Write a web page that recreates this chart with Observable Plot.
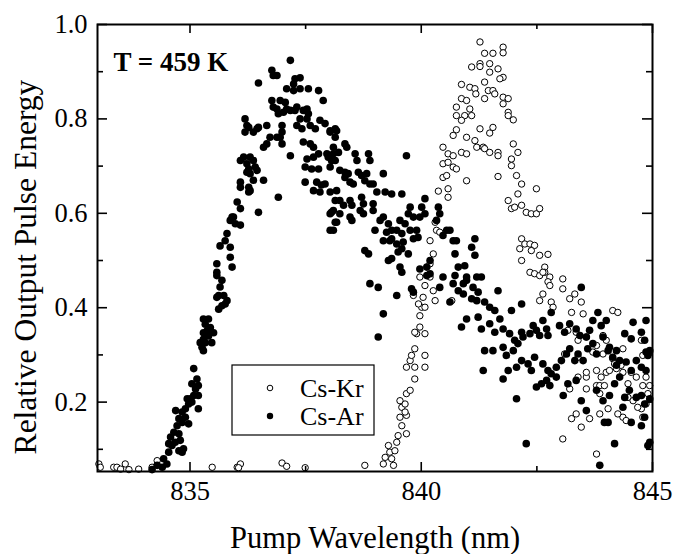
<!DOCTYPE html>
<html>
<head>
<meta charset="utf-8">
<script src="https://cdn.jsdelivr.net/npm/d3@7"></script>
<script src="https://cdn.jsdelivr.net/npm/@observablehq/plot@0.6"></script>
<style>
  html, body { margin: 0; padding: 0; background: white; }
</style>
</head>
<body>
<div id="chart"></div>
<script>
// ---- Data ----
const xTitle = "Pump Wavelength (nm)";
const yTitle = "Relative Output Pulse Energy";
const annotation = "T = 459 K";
const seriesNames = ["Cs-Kr", "Cs-Ar"];
const xMajorTicks = [835, 840, 845];
const xMinorTicks = [837.5, 842.5];
const yMajorTicks = [0.2, 0.4, 0.6, 0.8, 1.0];
const yMinorTicks = [0.1, 0.3, 0.5, 0.7, 0.9];
const xDomain = [833, 845];
const yDomain = [0.053, 1.0];

// Cs-Ar (filled circles): [wavelength nm, relative energy]
const csAr = [
[837.17,.924],[836.77,.903],[836.80,.892],[836.88,.892],[836.48,.876],[837.09,.864],[837.27,.885],[837.38,.887],
[837.24,.874],[837.38,.864],[837.24,.860],[837.56,.864],[837.78,.860],[837.88,.839],[836.19,.800],[836.23,.786],
[836.19,.772],[836.27,.782],[836.37,.772],[836.45,.779],[836.48,.782],[836.77,.839],[836.80,.825],[836.88,.821],
[836.95,.839],[837.06,.835],[837.09,.821],[836.91,.811],[837.02,.814],[837.17,.818],[837.27,.818],[837.31,.825],
[837.45,.818],[837.53,.821],[837.56,.811],[836.66,.786],[836.73,.761],[836.88,.761],[836.99,.786],[836.99,.772],
[836.95,.761],[836.99,.747],[837.17,.722],[836.91,.634],[836.66,.747],[836.59,.740],[837.38,.800],[837.31,.786],
[837.42,.779],[837.53,.800],[837.60,.786],[837.71,.779],[837.81,.797],[837.92,.790],[838.03,.775],[838.14,.779],
[837.45,.751],[837.60,.747],[837.67,.740],[837.53,.715],[837.67,.719],[837.78,.726],[837.96,.726],[837.99,.719],
[838.06,.712],[838.10,.740],[837.49,.698],[837.63,.694],[837.78,.694],[837.49,.666],[837.67,.648],[837.81,.645],
[837.92,.662],[837.84,.660],[837.74,.666],[838.06,.602],[838.14,.581],[838.10,.564],[836.16,.719],[836.09,.712],
[836.23,.705],[836.30,.719],[836.37,.712],[836.27,.694],[836.23,.687],[836.30,.684],[836.41,.698],[836.45,.691],
[836.37,.670],[836.59,.670],[836.27,.655],[836.30,.648],[836.09,.666],[836.09,.655],[836.27,.645],[836.48,.602],
[836.02,.624],[836.09,.610],[835.94,.592],[835.98,.578],[836.09,.575],[835.87,.585],[835.91,.592],[835.80,.557],
[835.76,.542],[835.87,.528],[835.65,.531],[835.87,.507],[835.91,.486],[835.58,.493],[835.58,.475],
[835.58,.468],[835.69,.458],[835.65,.444],[835.62,.426],[835.58,.422],[835.73,.426],[835.80,.415],[835.76,.408],
[835.69,.404],[835.62,.397],[835.29,.376],[835.40,.376],[835.33,.365],[835.44,.358],[835.37,.351],[835.29,.347],
[835.51,.347],[835.40,.340],[835.29,.333],[835.22,.326],[835.33,.326],[835.47,.326],[835.29,.309],[835.26,.316],
[835.08,.271],[835.15,.249],[835.04,.239],[835.18,.235],[835.12,.228],[835.08,.214],[835.18,.214],[835.01,.207],
[834.94,.207],[835.04,.200],[834.97,.196],[835.18,.186],[834.90,.186],[834.90,.168],[834.83,.157],[834.97,.154],
[834.72,.150],[834.69,.182],[834.83,.179],[834.76,.133],[834.65,.136],[834.76,.165],[834.58,.126],[834.54,.112],
[834.61,.108],[834.68,.115],[834.79,.119],[834.86,.101],[834.83,.094],[834.76,.097],[834.54,.094],[834.43,.080],
[834.50,.069],[834.40,.062],[834.29,.066],[834.18,.057],
[838.03,.772],[838.14,.761],[838.17,.775],[838.10,.726],[838.14,.712],[838.03,.698],[838.21,.729],[838.35,.747],
[838.39,.740],[838.24,.691],[838.35,.687],[838.42,.684],[838.35,.676],[838.17,.648],[838.46,.666],[838.53,.662],
[838.64,.687],[838.71,.680],[838.57,.726],[838.61,.712],[838.86,.726],[838.89,.712],[838.82,.684],[838.78,.669],
[838.89,.662],[838.96,.662],[839.04,.645],[839.22,.645],[839.36,.641],[839.58,.641],[839.68,.722],[839.18,.684],
[838.03,.645],[838.14,.627],[838.10,.606],[838.03,.599],[838.17,.581],[838.03,.564],[838.24,.627],[838.32,.617],
[838.24,.599],[838.46,.627],[838.50,.617],[838.46,.592],[838.50,.585],[838.71,.634],[838.75,.620],[838.68,.606],
[838.75,.599],[838.96,.620],[838.96,.606],[839.00,.564],[839.11,.585],[839.18,.592],[839.29,.578],[839.36,.564],
[839.25,.560],[839.32,.542],[839.47,.564],[839.54,.585],[839.58,.557],[839.65,.578],[839.72,.599],[839.76,.613],
[839.83,.592],[839.76,.564],[839.90,.564],[839.97,.592],[840.01,.613],[840.08,.631],[840.08,.599],[839.93,.549],
[839.83,.546],[839.61,.539],[839.47,.535],[839.36,.546],[839.18,.542],[838.78,.521],[838.86,.514],[839.29,.500],
[839.36,.504],[839.58,.525],[839.50,.518],[839.54,.486],[839.72,.514],[839.97,.482],[840.12,.486],[840.19,.500],
[840.33,.585],[840.40,.599],[840.37,.613],[840.47,.553],[840.55,.564],[840.62,.564],[840.69,.542],[840.76,.542],
[840.73,.514],[840.80,.486],[840.94,.489],[841.09,.528],[841.16,.511],[841.16,.546],[841.20,.465],[840.98,.465],
[838.89,.451],[839.07,.443],[839.47,.426],[839.18,.387],[839.07,.338],[839.58,.475],[839.79,.440],[839.83,.433],
[840.12,.468],[840.19,.472],[840.47,.465],[840.40,.443],[840.69,.451],[840.73,.468],[840.62,.412],[840.80,.436],
[840.91,.451],[840.91,.429],[840.98,.458],[841.09,.419],[841.20,.415],[841.23,.433],[841.30,.465],[841.12,.443],
[841.37,.412],[841.48,.401],[841.59,.394],[841.66,.436],[841.70,.376],[841.77,.355],[841.91,.345],[841.95,.394],
[842.02,.331],[842.17,.408],[840.98,.376],[840.87,.359],[841.23,.380],[841.30,.355],[841.48,.366],[841.59,.348],
[841.37,.309],[841.55,.309],[841.77,.316],[841.84,.299],[841.99,.309],[842.09,.324],[842.20,.338],[842.17,.348],
[842.35,.345],[842.42,.362],[842.49,.352],[842.56,.341],[842.63,.373],[842.71,.355],[842.74,.341],[842.81,.390],
[842.99,.362],[843.10,.348],[843.21,.366],[843.35,.355],[843.46,.443],[843.43,.341],[843.57,.338],[843.64,.352],
[843.71,.373],[843.82,.390],[843.89,.362],[844.00,.373],[843.93,.338],[844.07,.316],[844.22,.309],[844.40,.345],
[844.58,.369],[844.54,.334],[844.76,.348],[844.86,.373],[844.83,.331],[844.86,.306],[841.34,.267],[841.77,.249],
[841.88,.267],[842.06,.274],[842.17,.288],[842.31,.281],[842.38,.267],[842.45,.295],[842.63,.281],[842.74,.267],
[842.81,.260],[842.92,.274],[843.03,.288],[843.14,.302],[843.21,.313],[843.32,.288],[843.39,.302],[843.50,.288],
[843.60,.313],[843.71,.324],[843.79,.302],[844.04,.309],[844.14,.295],[844.22,.278],[844.29,.288],[844.43,.285],
[844.54,.267],[844.65,.288],[844.76,.274],[844.86,.267],[844.90,.299],[844.94,.309],[842.06,.207],[842.49,.232],
[842.60,.239],[842.71,.246],[842.78,.235],[842.92,.253],[843.07,.214],[843.17,.239],[843.35,.246],[843.46,.203],
[843.57,.182],[843.79,.225],[843.93,.203],[844.07,.214],[844.18,.239],[844.29,.253],[844.40,.210],[844.36,.189],
[844.50,.225],[844.65,.210],[844.76,.214],[844.83,.196],[844.94,.207],[843.96,.157],[844.04,.157],[844.18,.112],
[844.54,.157],[844.76,.150],[844.83,.168],[844.90,.108],[844.94,.115],[842.27,.112],[843.86,.066]
];

// Cs-Kr (open circles): [wavelength nm, relative energy]
const csKr = [
[833.03,.069],[833.06,.062],[833.35,.062],[833.42,.062],[833.50,.058],[833.60,.069],[833.68,.057],[833.89,.058],
[834.18,.062],[834.29,.076],[835.48,.062],[836.02,.062],[836.09,.069],[836.05,.061],[836.99,.071],[837.09,.064],
[837.49,.061],[838.78,.066],
[839.18,.069],[839.22,.083],[839.32,.094],[839.36,.080],[839.40,.066],[839.29,.108],[839.43,.097],[839.47,.115],
[839.50,.129],[839.58,.150],[839.54,.168],[839.68,.133],[839.58,.189],[839.65,.196],[839.54,.203],[839.68,.218],
[839.76,.225],[839.68,.172],[839.65,.179],[839.86,.249],[839.68,.274],[839.76,.288],[839.79,.299],[839.86,.313],
[839.86,.274],[840.08,.274],[840.08,.299],[839.90,.345],[839.97,.359],[839.86,.348],[840.08,.345],[839.97,.383],
[840.01,.401],[839.94,.408],[840.08,.401],[840.04,.422],[840.08,.447],[839.83,.426],[839.97,.465],[840.30,.415],
[840.26,.436],[840.19,.465],[840.66,.415],[840.26,.514],[840.19,.493],[840.33,.564],
[841.27,.963],[841.37,.939],[841.55,.939],[841.77,.952],[841.77,.940],[841.09,.910],[841.27,.917],[841.27,.911],
[841.48,.917],[841.48,.899],[841.66,.906],[841.77,.888],[841.70,.885],[840.87,.873],[841.05,.867],[841.16,.864],
[841.18,.853],[841.37,.878],[841.45,.860],[841.55,.860],[841.59,.853],[840.87,.843],[840.98,.839],[841.37,.843],
[841.77,.846],[841.88,.843],[841.77,.832],[840.76,.825],[841.05,.821],[840.94,.807],[841.09,.807],[840.76,.807],
[840.87,.797],[841.88,.814],[841.88,.807],[841.99,.798],[841.27,.779],[841.48,.770],[841.55,.782],[840.76,.777],
[840.69,.765],[840.98,.761],[840.47,.740],[840.58,.726],[840.69,.722],[840.47,.705],[840.58,.708],[840.69,.698],
[840.76,.694],[840.87,.729],[840.98,.726],[841.16,.754],[841.20,.740],[841.34,.740],[841.37,.737],[841.48,.729],
[841.66,.729],[841.66,.722],[841.99,.747],[842.09,.729],[841.95,.715],[841.95,.701],[842.06,.680],[842.17,.662],
[842.09,.641],[841.88,.627],[841.95,.610],[842.02,.613],[842.17,.617],[842.27,.602],[842.38,.599],[842.49,.599],
[842.56,.610],[842.49,.652],[840.98,.669],[841.66,.678],[840.58,.652],[840.37,.647],[840.58,.634],[840.47,.676],
[840.55,.680],[840.30,.581],[840.40,.560],[840.19,.542],[842.17,.546],[842.13,.525],[842.24,.535],[842.35,.535],
[842.45,.532],[842.38,.521],[842.56,.511],[842.74,.513],[842.17,.500],[842.35,.475],[842.45,.472],[842.56,.468],
[842.67,.486],[842.67,.475],[842.78,.465],[843.06,.461],
[842.63,.475],[842.74,.455],[842.78,.447],[843.06,.440],[843.21,.419],[843.32,.429],[843.46,.412],[843.50,.387],
[843.25,.390],[842.63,.429],[842.56,.415],[842.81,.412],[842.85,.401],[843.17,.352],[843.35,.348],[843.39,.331],
[843.57,.338],[843.71,.306],[843.79,.320],[843.93,.341],[844.00,.331],[843.93,.302],[844.14,.394],[844.25,.390],
[844.36,.313],[844.14,.292],[844.18,.281],[844.32,.278],[844.76,.331],[844.79,.299],[844.54,.263],[844.65,.253],
[844.86,.253],[844.79,.235],[844.94,.235],[844.86,.196],[844.76,.186],[844.79,.168],[844.36,.168],[844.25,.175],
[844.04,.186],[843.86,.175],[843.79,.267],[843.89,.253],[843.79,.235],[843.86,.235],[843.96,.235],[843.86,.218],
[843.57,.253],[843.57,.228],[843.57,.263],[843.39,.253],[843.21,.228],[843.35,.175],[843.25,.165],[843.46,.147],
[843.64,.165],[843.06,.122],[843.79,.090],[844.00,.263],[844.07,.267],[844.22,.271],[844.36,.263],[844.47,.239],
[844.47,.210],[844.58,.203],[844.68,.189],[844.43,.161],[844.90,.218],[843.39,.295],[843.10,.302]
];

// ---- Chart ----
const W = 673, H = 554;
const mL = 97, mR = 21, mT = 24, mB = 83;
const frameW = W - mL - mR, frameH = H - mT - mB;
const font = "'Liberation Serif', 'Times New Roman', Times, serif";

function legendMark(index, scales, values, dims) {
  const g = d3.create("svg:g");
  const x0 = dims.marginLeft + 135;
  const y0 = dims.height - dims.marginBottom - 106;
  g.append("rect").attr("x", x0).attr("y", y0).attr("width", 142).attr("height", 70)
    .attr("fill", "white").attr("stroke", "black").attr("stroke-width", 1.2);
  const rows = [{name: seriesNames[0], open: true, dy: 23}, {name: seriesNames[1], open: false, dy: 51}];
  for (const r of rows) {
    g.append("circle").attr("cx", x0 + 38).attr("cy", y0 + r.dy).attr("r", r.open ? 2.8 : 3.2)
      .attr("fill", r.open ? "white" : "black").attr("stroke", "black").attr("stroke-width", r.open ? 1 : 0);
    g.append("text").attr("x", x0 + 68).attr("y", y0 + r.dy).attr("dy", "0.34em")
      .attr("text-anchor", "start")
      .attr("font-size", 26).attr("font-family", font).attr("fill", "black").text(r.name);
  }
  return g.node();
}

const chart = Plot.plot({
  width: W, height: H,
  marginLeft: mL, marginRight: mR, marginTop: mT, marginBottom: mB,
  style: {fontFamily: font, background: "white", color: "black"},
  x: {domain: xDomain},
  y: {domain: yDomain},
  marks: [
    // data
    Plot.dot(csKr, {x: d => d[0], y: d => d[1], r: 3.2, fill: "white", stroke: "black", strokeWidth: 1}),
    Plot.dot(csAr, {x: d => d[0], y: d => d[1], r: 3.8, fill: "black", stroke: "none"}),
    // frame
    Plot.frame({stroke: "black", strokeWidth: 2}),
    // inward ticks, bottom & top
    Plot.tickX(xMajorTicks, {x: d => d, insetTop: frameH - 9, stroke: "black", strokeWidth: 1.6}),
    Plot.tickX(xMajorTicks, {x: d => d, insetBottom: frameH - 9, stroke: "black", strokeWidth: 1.6}),
    Plot.tickX(xMinorTicks, {x: d => d, insetTop: frameH - 5, stroke: "black", strokeWidth: 1.6}),
    Plot.tickX(xMinorTicks, {x: d => d, insetBottom: frameH - 5, stroke: "black", strokeWidth: 1.6}),
    // inward ticks, left & right
    Plot.tickY(yMajorTicks, {y: d => d, insetRight: frameW - 10, stroke: "black", strokeWidth: 1.6}),
    Plot.tickY(yMajorTicks, {y: d => d, insetLeft: frameW - 10, stroke: "black", strokeWidth: 1.6}),
    Plot.tickY(yMinorTicks, {y: d => d, insetRight: frameW - 6, stroke: "black", strokeWidth: 1.6}),
    Plot.tickY(yMinorTicks, {y: d => d, insetLeft: frameW - 6, stroke: "black", strokeWidth: 1.6}),
    // tick labels
    Plot.axisX({ticks: xMajorTicks, tickSize: 0, tickPadding: 10, fontSize: 26.5, tickFormat: d => String(d), label: null, fill: "black"}),
    Plot.axisY({ticks: yMajorTicks, tickSize: 0, tickPadding: 10, fontSize: 26.5, tickFormat: d => d.toFixed(1), label: null, fill: "black"}),
    // axis titles
    Plot.text([xTitle], {text: d => d, frameAnchor: "bottom", dy: 76, textAnchor: "middle", lineAnchor: "bottom", fontSize: 30.5, fill: "black"}),
    Plot.text([yTitle], {text: d => d, frameAnchor: "left", rotate: -90, dx: -62, dy: 19, textAnchor: "middle", lineAnchor: "bottom", fontSize: 31.5, fill: "black"}),
    // annotation
    Plot.text([annotation], {text: d => d, frameAnchor: "top-left", dx: 16, dy: 46, textAnchor: "start", lineAnchor: "bottom", fontSize: 27, fontWeight: "bold", fill: "black"}),
    // legend
    legendMark
  ]
});
document.getElementById("chart").appendChild(chart);
</script>
</body>
</html>
